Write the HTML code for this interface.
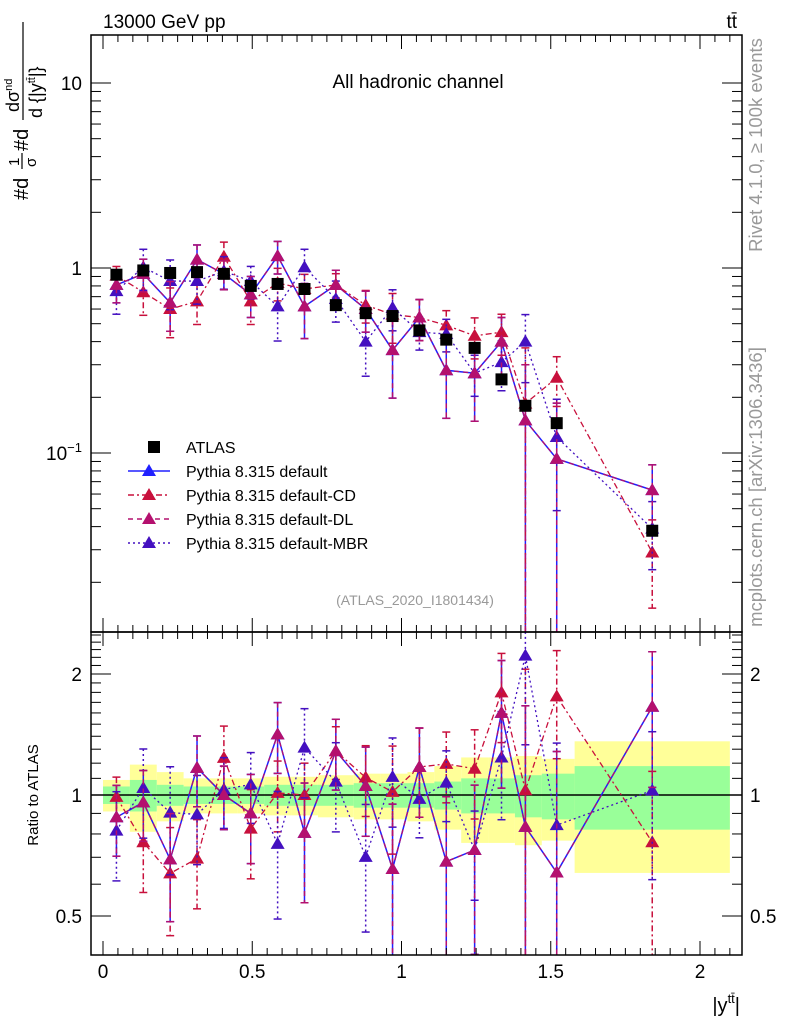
<!DOCTYPE html>
<html><head><meta charset="utf-8"><style>
body{margin:0;background:#fff}
svg{font-family:"Liberation Sans",sans-serif}
</style></head><body>
<svg id="c" width="786" height="1024" xmlns="http://www.w3.org/2000/svg">
<text x="103" y="28" font-size="19">13000 GeV pp</text>
<text x="737" y="28" font-size="19" text-anchor="end">tt̄</text>
<text x="418" y="88" font-size="19" text-anchor="middle">All hadronic channel</text>
<text x="415" y="605" font-size="14" fill="#999" text-anchor="middle">(ATLAS_2020_I1801434)</text>
<text transform="translate(762,145) rotate(-90)" font-size="18.5" fill="#999" text-anchor="middle">Rivet 4.1.0, ≥ 100k events</text>
<text transform="translate(762,487) rotate(-90)" font-size="18.5" fill="#999" text-anchor="middle">mcplots.cern.ch [arXiv:1306.3436]</text>
<g transform="translate(28,200) rotate(-90)">
 <text x="0" y="0" font-size="20">#d</text>
 <text x="34" y="-9" font-size="15">1</text>
 <line x1="31" x2="47" y1="-6" y2="-6" stroke="#000" stroke-width="1.2"/>
 <text x="33" y="8" font-size="15">σ</text>
 <text x="49" y="0" font-size="20">#d</text>
 <text x="88" y="-9" font-size="18">dσ<tspan font-size="11" dy="-7">nd</tspan></text>
 <line x1="80" x2="178" y1="-5" y2="-5" stroke="#000" stroke-width="1.2"/>
 <text x="82" y="14" font-size="18">d {|y<tspan font-size="11" dy="-7">tt̄</tspan><tspan dy="7">|}</tspan></text>
</g>
<text transform="translate(38,795) rotate(-90)" font-size="15" text-anchor="middle">Ratio to ATLAS</text>
<text x="740" y="1012" font-size="20" text-anchor="end">|y<tspan font-size="13" dy="-9">tt̄</tspan><tspan dy="9">|</tspan></text>
<g id="g"></g>
</svg>
<script>
const bins=[0,0.09,0.18,0.27,0.36,0.45,0.54,0.63,0.72,0.84,0.93,1.02,1.11,1.20,1.29,1.38,1.47,1.58,2.1];
const xc=[0.045,0.135,0.225,0.315,0.405,0.495,0.585,0.675,0.78,0.88,0.97,1.06,1.15,1.245,1.335,1.415,1.52,1.84];
const atlas=[0.92,0.97,0.94,0.95,0.93,0.80,0.82,0.77,0.63,0.57,0.55,0.46,0.41,0.37,0.25,0.18,0.145,0.038];
const statErr=[0.05,0.09,0.06,0.05,0.05,0.05,0.06,0.06,0.06,0.07,0.07,0.07,0.08,0.10,0.10,0.12,0.13,0.18];
const totErr=[0.09,0.19,0.14,0.10,0.10,0.10,0.11,0.11,0.12,0.13,0.13,0.14,0.18,0.24,0.24,0.25,0.23,0.36];
const defVals=[0.81,0.93,0.65,1.11,0.93,0.72,1.16,0.62,0.81,0.60,0.36,0.54,0.28,0.27,0.40,0.15,0.093,0.063];
const cdVals=[0.91,0.74,0.60,0.66,1.15,0.66,0.83,0.77,0.81,0.63,0.56,0.54,0.49,0.43,0.45,0.185,0.255,0.029];
const dlVals=[0.81,0.93,0.65,1.11,0.93,0.72,1.16,0.62,0.81,0.60,0.36,0.54,0.28,0.27,0.40,0.15,0.093,0.063];
const mbrVals=[0.75,1.01,0.85,0.85,0.96,0.85,0.62,1.01,0.68,0.40,0.61,0.45,0.44,0.27,0.31,0.40,0.122,0.039];
const defErr=[0.2,0.2,0.3,0.2,0.18,0.25,0.2,0.33,0.2,0.25,0.45,0.25,0.45,0.45,0.35,1.0,1.0,0.37];
const cdErr=[0.12,0.25,0.3,0.25,0.2,0.25,0.2,0.2,0.15,0.2,0.3,0.25,0.2,0.25,0.25,1.0,0.3,0.5];
const mbrErr=[0.25,0.25,0.3,0.25,0.2,0.2,0.35,0.25,0.25,0.35,0.25,0.2,0.2,0.25,0.3,0.4,0.6,0.4];
const xTicks=[0,0.5,1,1.5,2];
const xTickLabels=["0","0.5","1","1.5","2"];
const ratioTicks=[0.5,1,2];
const ratioTickLabels=["0.5","1","2"];

const L=91,R=742,T=35,M=632,B=955;
const X=v=>103+v*298.5;
const Y=v=>83-(Math.log10(v)-1)*185;
const YR=r=>795-174.6*Math.log(r);
const g=document.getElementById('g');
const NS='http://www.w3.org/2000/svg';
function mk(t,a,p){const e=document.createElementNS(NS,t);for(const k in a)e.setAttribute(k,a[k]);(p||g).appendChild(e);return e;}
const clipM=mk('clipPath',{id:'cm'});mk('rect',{x:L,y:T,width:R-L,height:M-T},clipM);
const clipR=mk('clipPath',{id:'cr'});mk('rect',{x:L,y:M,width:R-L,height:B-M},clipR);

const bandG=mk('g',{'clip-path':'url(#cr)'});


for(let i=0;i<xc.length;i++){
 const y=mk('rect',{x:X(bins[i]),width:X(bins[i+1])-X(bins[i]),y:YR(1+totErr[i]),height:YR(1-totErr[i])-YR(1+totErr[i]),fill:'#ffff99'},bandG);
 
 
}
for(let i=0;i<xc.length;i++){
 const s=mk('rect',{x:X(bins[i]),width:X(bins[i+1])-X(bins[i]),y:YR(1+statErr[i]),height:YR(1-statErr[i])-YR(1+statErr[i]),fill:'#99ff99'},bandG);
 
 
}
const one=mk('line',{x1:L,x2:R,y1:YR(1),y2:YR(1),stroke:'#000','stroke-width':1.5});



function tri(p,cx,cy,col){const e=mk('path',{d:`M${cx} ${cy-7}L${cx+7} ${cy+5}L${cx-7} ${cy+5}Z`,fill:col},p);return e;}
const series=[
 {n:'default',v:defVals,e:defErr,c:'#2020ff',d:'',w:1.5},
 {n:'default-cd',v:cdVals,e:cdErr,c:'#c8103c',d:'6,3,2,3',w:1.3},
 {n:'default-mbr',v:mbrVals,e:mbrErr,c:'#4410c0',d:'2,3',w:1.3},
 {n:'default-dl',v:dlVals,e:defErr,c:'#b4106e',d:'5,4',w:1.3}
];
function drawSeries(s,ratio){
 const grp=mk('g',{'clip-path':ratio?'url(#cr)':'url(#cm)'});
 
 
 const yf=ratio?(i=>YR(s.v[i]/atlas[i])):(i=>Y(s.v[i]));
 const val=ratio?(i=>s.v[i]/atlas[i]):(i=>s.v[i]);
 let d='';
 for(let i=0;i<xc.length;i++)d+=(i?'L':'M')+X(xc[i])+' '+yf(i);
 mk('path',{d,fill:'none',stroke:s.c,'stroke-width':s.w,'stroke-dasharray':s.d},grp);
 for(let i=0;i<xc.length;i++){
  const v=val(i),e=s.e[i];
  const lo=v*(1-e)>0?(ratio?YR(v*(1-e)):Y(v*(1-e))):1000;
  const hi=ratio?YR(v*(1+e)):Y(v*(1+e));
  mk('line',{x1:X(xc[i]),x2:X(xc[i]),y1:hi,y2:lo,stroke:s.c,'stroke-width':1.5,'stroke-dasharray':s.d},grp);
  mk('line',{x1:X(xc[i])-4,x2:X(xc[i])+4,y1:hi,y2:hi,stroke:s.c,'stroke-width':1.5},grp);
  if(lo<1000)mk('line',{x1:X(xc[i])-4,x2:X(xc[i])+4,y1:lo,y2:lo,stroke:s.c,'stroke-width':1.5},grp);
  const t=tri(grp,X(xc[i]),yf(i),s.c);
  
  
 }
}
series.forEach(s=>drawSeries(s,true));
series.forEach(s=>drawSeries(s,false));
for(let i=0;i<xc.length;i++){
 const r=mk('rect',{x:X(xc[i])-6,y:Y(atlas[i])-6,width:12,height:12,fill:'#000'});
 
 
}
const f1=mk('rect',{x:L,y:T,width:R-L,height:M-T,fill:'none',stroke:'#000','stroke-width':1.5});


const f2=mk('rect',{x:L,y:M,width:R-L,height:B-M,fill:'none',stroke:'#000','stroke-width':1.5});


for(let k=0;k<=42;k++){const v=k*0.05,x=X(v);if(x>R)break;const maj=k%10==0;const len=maj?14:7;
 [[B,-1],[M,1],[M,-1],[T,1]].forEach(([y0,dir])=>mk('line',{x1:x,x2:x,y1:y0,y2:y0+dir*len,stroke:'#000','stroke-width':1}));}
xTicks.forEach((v,i)=>{const t=mk('text',{x:X(v),y:978,'font-size':19,'text-anchor':'middle'});t.textContent=xTickLabels[i];
 
 });
for(let dec=-2;dec<=1;dec++)for(let m=1;m<10;m++){const v=m*Math.pow(10,dec),y=Y(v);if(y<T||y>M)continue;const len=m==1?20:10;
 mk('line',{x1:L,x2:L+len,y1:y,y2:y,stroke:'#000'});mk('line',{x1:R,x2:R-len,y1:y,y2:y,stroke:'#000'});}
[[10,'10'],[1,'1']].forEach(([v,s])=>{const t=mk('text',{x:82,y:Y(v)+7,'font-size':19,'text-anchor':'end'});t.textContent=s;
 
 });
const t10=mk('text',{x:82,y:Y(0.1)+7,'font-size':19,'text-anchor':'end'});t10.innerHTML='10<tspan font-size="13" dy="-8">−1</tspan>';


for(let k=4;k<=25;k++){const v=k/10,y=YR(v);if(y<M||y>B)continue;const maj=(v==0.5||v==1||v==2);const len=maj?20:10;
 mk('line',{x1:L,x2:L+len,y1:y,y2:y,stroke:'#000'});mk('line',{x1:R,x2:R-len,y1:y,y2:y,stroke:'#000'});}
ratioTicks.forEach((v,i)=>{[[82,'end'],[750,'start']].forEach(([x,a])=>{const t=mk('text',{x,y:YR(v)+7,'font-size':19,'text-anchor':a});t.textContent=ratioTickLabels[i];
 
 });});
const lg=mk('g',{});


const names=['ATLAS','Pythia 8.315 default','Pythia 8.315 default-CD','Pythia 8.315 default-DL','Pythia 8.315 default-MBR'];
const lst=[null,series[0],series[1],series[3],series[2]];
names.forEach((n,i)=>{const y=447+i*24;
 if(i==0)mk('rect',{x:148,y:y-6,width:12,height:12,fill:'#000'},lg);
 else{mk('line',{x1:128,x2:170,y1:y,y2:y,stroke:lst[i].c,'stroke-width':1.5,'stroke-dasharray':lst[i].d},lg);tri(lg,149,y,lst[i].c);}
 const t=mk('text',{x:186,y:y+6,'font-size':16},lg);t.textContent=n;
 
 });
</script>
</body></html>
